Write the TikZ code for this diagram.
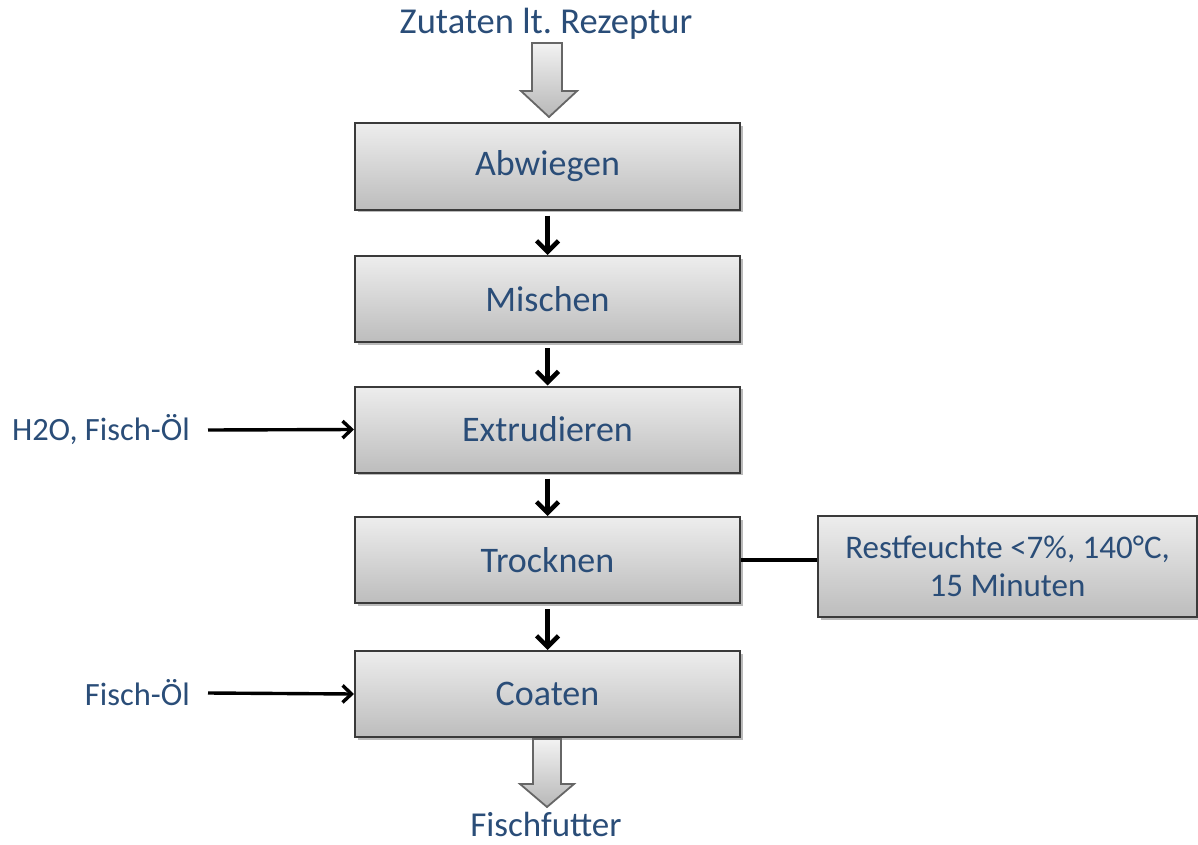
\documentclass[tikz,border=0pt]{standalone}
\usepackage{fontspec}
\setmainfont{Carlito}
\usetikzlibrary{arrows.meta,shadows,calc}
\definecolor{txtblue}{HTML}{2A4D78}
\definecolor{boxedge}{HTML}{3A3A3A}
\tikzset{
  stepbox/.style={draw=boxedge, line width=2pt, top color=white!93!black, bottom color=white!74!black,
    minimum width=385pt, minimum height=86pt, inner sep=0pt, text=txtblue, font=\fontsize{36}{42}\selectfont,
    drop shadow={shadow xshift=2.5pt, shadow yshift=-2.5pt, fill=black!45, opacity=.6}},
  infobox/.style={stepbox, minimum width=379pt, minimum height=101pt, align=center, font=\fontsize{33}{38}\selectfont},
  lbl/.style={text=txtblue, inner sep=0pt, font=\fontsize{36.5}{42}\selectfont},
  sidelbl/.style={lbl, font=\fontsize{32.5}{38}\selectfont},
  flow/.style={line width=4.5pt, -{Straight Barb[length=11pt,width=22pt,line width=4.5pt]}, shorten <=5pt},
  feed/.style={line width=3.4pt, -{Straight Barb[length=9pt,width=17pt,line width=3.4pt]}},
  blockarrow/.style={draw=black!60, line width=1.8pt, top color=white!95!black, bottom color=white!72!black, line join=miter}
}
\begin{document}
\begin{tikzpicture}[x=1pt,y=-1pt]
\useasboundingbox (0,0) rectangle (1198,845);
\node[stepbox] (abw) at (547.5,166.5) {Abwiegen};
\node[stepbox] (mis) at (547.5,299) {Mischen};
\node[stepbox] (ext) at (547.5,429.5) {Extrudieren};
\node[stepbox] (tro) at (547.5,560) {Trocknen};
\node[stepbox] (coa) at (547.5,694) {Coaten};
\node[infobox] (rest) at (1007.5,566.5) {Restfeuchte <7\%, 140°C,\\15 Minuten};

\node[lbl] (zut) at (546,24) {Zutaten lt.\ Rezeptur};
\node[lbl, font=\fontsize{35}{40}\selectfont] (fut) at (546,824) {Fischfutter};
\node[sidelbl, anchor=east] (h2o) at (190,430) {H2O, Fisch-Öl};
\node[sidelbl, anchor=east] (oel) at (190,693) {Fisch-Öl};

% block arrows
\draw[blockarrow] (532,43) -- (562,43) -- (562,91) -- (577,91) -- (549,117) -- (521,91) -- (532,91) -- cycle;
\draw[blockarrow] (533,739) -- (561,739) -- (561,784) -- (574,784) -- (547,807) -- (520,784) -- (533,784) -- cycle;

\draw[flow] (abw.south) -- (mis.north);
\draw[flow] (mis.south) -- (ext.north);
\draw[flow] (ext.south) -- (tro.north);
\draw[flow] (tro.south) -- (coa.north);

\draw[feed] ($(h2o.east)+(18,0)$) -- (ext.west);
\draw[feed] ($(oel.east)+(18,0)$) -- (coa.west);
\draw[line width=3.4pt] (tro.east) -- (rest.west |- tro.east);
\end{tikzpicture}
\end{document}
